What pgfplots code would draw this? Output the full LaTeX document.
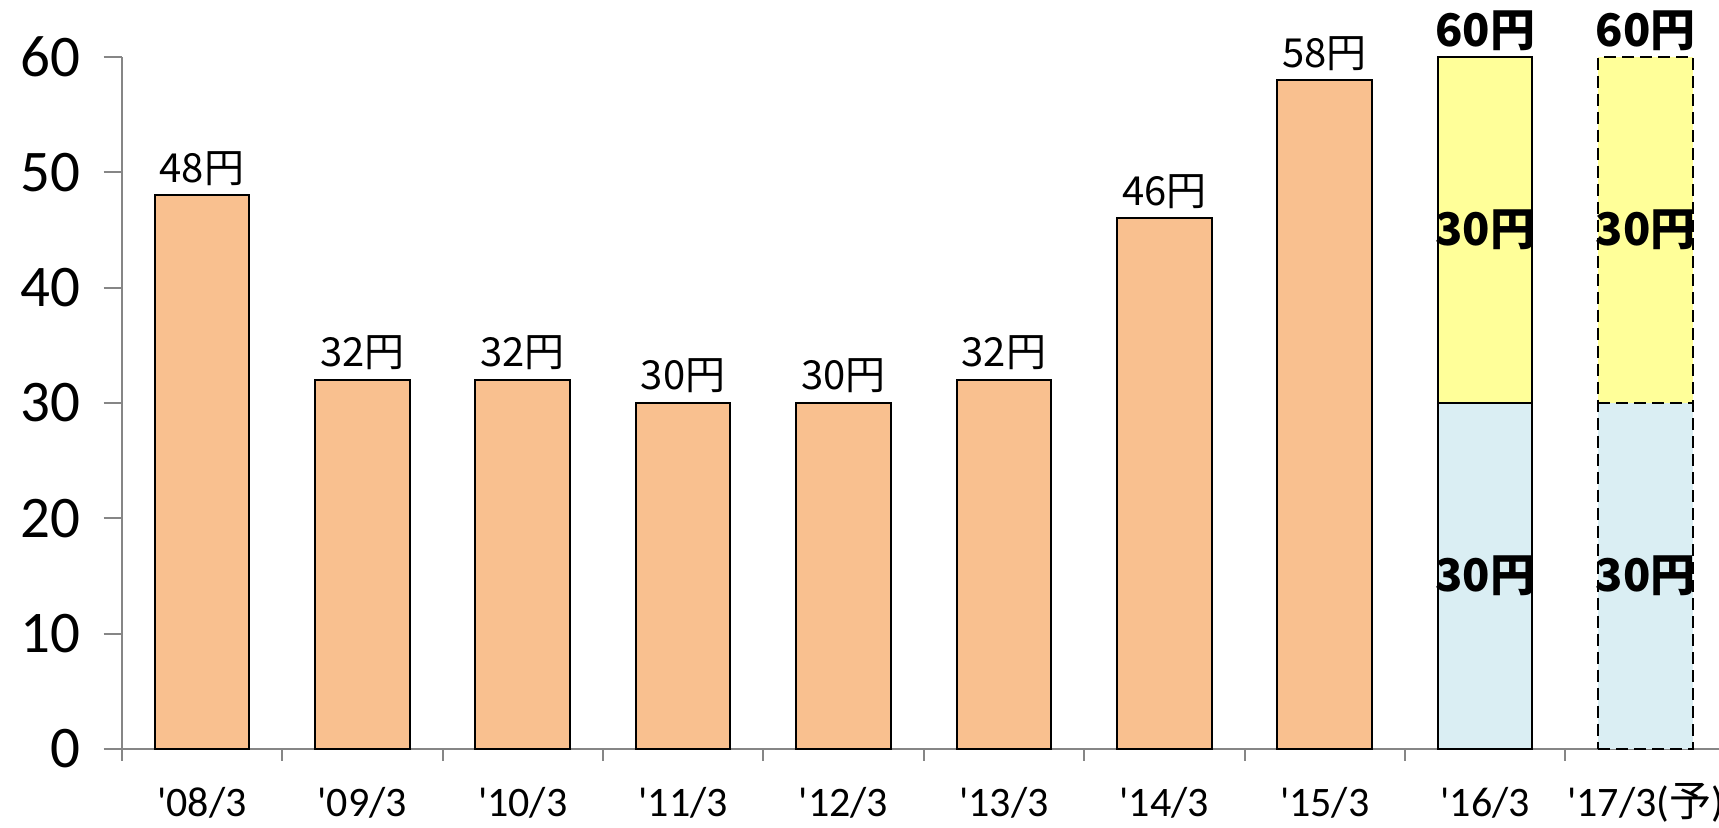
\documentclass[border=0pt]{standalone}
\usepackage{fontspec}
\setmainfont{Carlito}
\newfontfamily\cjk{Noto Sans CJK JP}
\usepackage{pgfplots}
\pgfplotsset{compat=1.18}
\definecolor{barorange}{HTML}{F9C08F}
\definecolor{barblue}{HTML}{DAEEF3}
\definecolor{baryellow}{HTML}{FFFF99}
\definecolor{axgray}{HTML}{868686}
\newcommand{\labfont}{\cjk\fontsize{20}{20}\selectfont}
\newcommand{\blabfont}{\cjk\bfseries\fontsize{22.5}{22.5}\selectfont}
\newcommand{\yen}{円}
\begin{document}
\begin{tikzpicture}
\begin{axis}[
  name=ax,
  scale only axis,
  width=798.65pt, height=346pt,
  xmin=-0.5, xmax=9.458, ymin=0, ymax=60,
  axis lines*=left,
  axis line style={draw=axgray, line width=1pt},
  clip=false,
  tick align=outside,
  tick style={draw=axgray, line width=1pt},
  major tick length=9pt,
  minor tick length=6pt,
  xtick={0,...,9},
  every major x tick/.append style={draw=none},
  minor xtick={-0.5,0.5,1.5,2.5,3.5,4.5,5.5,6.5,7.5,8.5},
  xticklabels={\textquotesingle 08/3,\textquotesingle 09/3,\textquotesingle 10/3,\textquotesingle 11/3,\textquotesingle 12/3,\textquotesingle 13/3,\textquotesingle 14/3,\textquotesingle 15/3,\textquotesingle 16/3,\textquotesingle 17/3({\cjk 予})},
  xticklabel style={font=\fontsize{21}{21}\selectfont, anchor=base, yshift=-25pt},
  ytick={0,10,...,60},
  yticklabel style={font=\fontsize{29.5}{29.5}\selectfont, /pgf/number format/assume math mode=true, xshift=-8pt},
]
% orange bars
\addplot[ybar, bar width=0.59, bar shift=0pt, fill=barorange, draw=black, line width=1pt,
  point meta=y, nodes near coords={\pgfmathprintnumber[assume math mode=true]{\pgfplotspointmeta}{\yen}},
  every node near coord/.style={font=\labfont, anchor=base, inner sep=0pt, yshift=6.5pt}]
  coordinates {(0,48) (1,32) (2,32) (3,30) (4,30) (5,32) (6,46) (7,58)};
% '16/3 (solid)
\addplot[ybar, bar width=0.59, bar shift=0pt, fill=baryellow, draw=black, line width=1pt,
  point meta=y, nodes near coords={\pgfmathprintnumber[assume math mode=true]{\pgfplotspointmeta}{\yen}},
  every node near coord/.style={font=\blabfont, anchor=base, inner sep=0pt, yshift=5pt}]
  coordinates {(8,60)};
\addplot[ybar, bar width=0.59, bar shift=0pt, fill=barblue, draw=black, line width=1pt]
  coordinates {(8,30)};
% '17/3 forecast (dashed)
\addplot[ybar, bar width=0.59, bar shift=0pt, fill=baryellow, draw=none]
  coordinates {(9,60)};
\addplot[ybar, bar width=0.59, bar shift=0pt, fill=barblue, draw=none]
  coordinates {(9,30)};
\addplot[ybar, bar width=0.59, bar shift=0pt, fill=none, draw=black, line width=1pt, dash pattern=on 6pt off 3pt,
  point meta=y, nodes near coords={\pgfmathprintnumber[assume math mode=true]{\pgfplotspointmeta}{\yen}},
  every node near coord/.style={font=\blabfont, anchor=base, inner sep=0pt, yshift=5pt}]
  coordinates {(9,60)};
\addplot[black, line width=1pt, dash pattern=on 6pt off 3pt, mark=none]
  coordinates {(8.705,30) (9.295,30)};
% segment labels
\addplot[draw=none, mark=none, point meta=explicit symbolic,
  nodes near coords={{\pgfplotspointmeta}{\yen}},
  every node near coord/.style={font=\blabfont, anchor=center, inner sep=0pt}]
  coordinates {(8,15) [30] (9,15) [30] (8,45) [30] (9,45) [30]};
\end{axis}
\pgfresetboundingbox
\path ([xshift=-60.85pt, yshift=-39.5pt]ax.south west) rectangle ([yshift=28.5pt]ax.north east);
\end{tikzpicture}
\end{document}
